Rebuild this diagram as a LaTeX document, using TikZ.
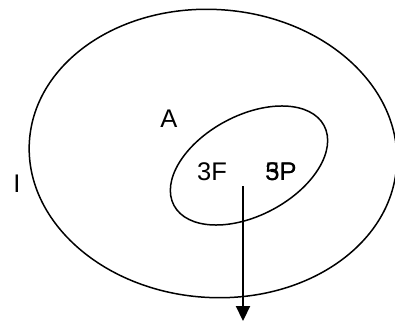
\documentclass[tikz,border=0pt]{standalone}
\usepackage{fontspec}
\setmainfont{Liberation Sans}
\usetikzlibrary{arrows.meta}
\begin{document}
\begin{tikzpicture}[x=1pt,y=-1pt,
  curve/.style={line width=1.5pt},
  lbl/.style={inner sep=0pt,font=\fontsize{25.5}{25.5}\selectfont},
  arr/.style={line width=2.2pt,-{Triangle[length=15pt,width=14pt]}}]
\useasboundingbox (0,0) rectangle (395,331);
\draw[curve,rotate around={-4:(213,153.5)}] (213,153.5) ellipse[x radius=184, y radius=144];
\draw[curve,rotate around={28:(249,165.5)}] (249,165.5) ellipse[x radius=85, y radius=50];
\node[lbl] (A) at (169,119) {A};
\node[lbl] (I) at (17,184) {I};
\node[lbl] (F) at (212,172) {3F};
\node[lbl] (P5) at (281,172) {5P};
\node[lbl] (P3) at (281,172) {3P};
\coordinate (s) at (243,186);
\coordinate (e) at (243,321);
\draw[arr] (s) -- (e);
\end{tikzpicture}
\end{document}
